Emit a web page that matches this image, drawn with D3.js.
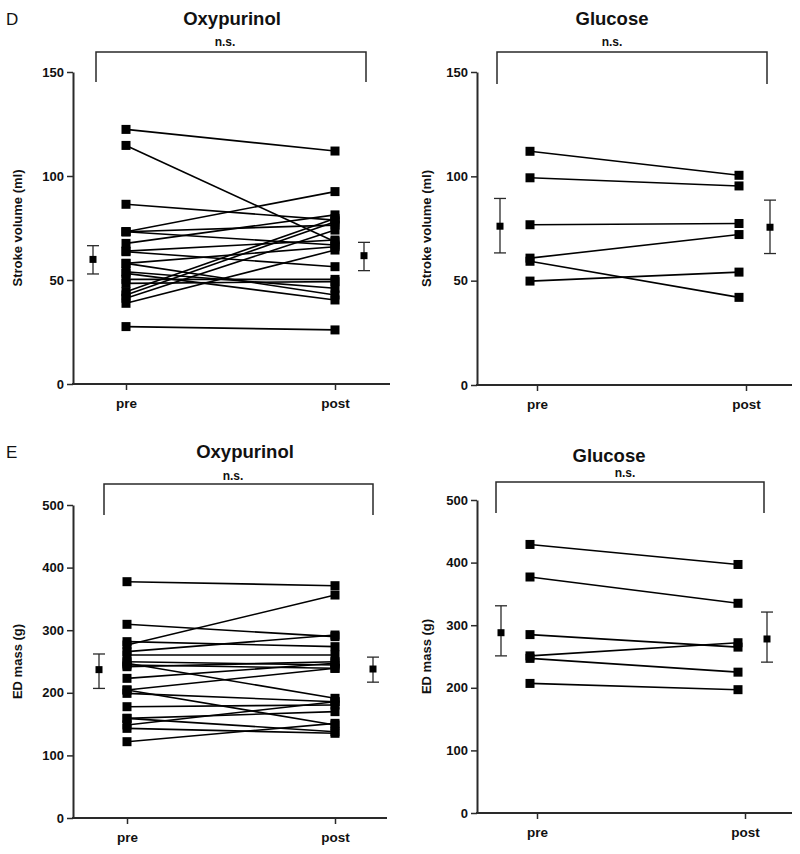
<!DOCTYPE html>
<html><head><meta charset="utf-8">
<script src="https://cdnjs.cloudflare.com/ajax/libs/d3/7.8.5/d3.min.js"></script>
<style>
body{margin:0;background:#fff;}
svg{display:block;font-family:"Liberation Sans",Arial,sans-serif;}
</style></head>
<body>
<svg id="chart" width="800" height="854"></svg>
<script>
// ---------- data ----------
const timepoints = ["pre", "post"];
const svTicks = [0, 50, 100, 150];
const edTicks = [0, 100, 200, 300, 400, 500];

// Stroke volume, Oxypurinol (paired pre/post)
const oxySvPre  = [122.4, 114.7, 86.4, 73.2, 73.2, 73.2, 67.6, 63.9, 63.6, 58.0, 58.0, 54.0, 53.2, 50.3, 48.4, 44.4, 42.8, 41.2, 38.8, 27.6];
const oxySvPost = [112.0, 68.4, 78.8, 92.5, 76.4, 66.8, 81.3, 69.2, 56.4, 66.0, 42.8, 46.0, 40.4, 50.3, 49.2, 79.6, 78.0, 74.0, 64.4, 26.0];
const oxySvMean = [59.9, 61.7];
const oxySvLo   = [52.9, 54.5];
const oxySvHi   = [66.5, 68.1];

// Stroke volume, Glucose
const gluSvPre  = [112.0, 99.3, 76.8, 60.8, 59.3, 49.8];
const gluSvPost = [100.5, 95.4, 77.4, 72.1, 42.0, 54.1];
const gluSvMean = [76.1, 75.6];
const gluSvLo   = [63.3, 63.0];
const gluSvHi   = [89.4, 88.6];

// ED mass, Oxypurinol
const oxyEdPre  = [377.5, 309.4, 276.4, 281.7, 265.7, 260.4, 249.7, 247.1, 244.4, 241.7, 223.1, 204.5, 204.5, 199.1, 177.8, 159.2, 159.2, 148.6, 143.2, 121.9];
const oxyEdPost = [371.1, 289.7, 356.2, 273.7, 292.3, 260.4, 244.4, 191.2, 239.1, 249.7, 247.1, 239.1, 148.6, 185.8, 180.5, 169.9, 137.9, 185.8, 135.3, 151.2];
const oxyEdMean = [237, 238];
const oxyEdLo   = [207, 217];
const oxyEdHi   = [262, 257];

// ED mass, Glucose
const gluEdPre  = [429, 377, 285, 251, 247, 207];
const gluEdPost = [397, 335, 265, 272, 225, 197];
const gluEdMean = [288, 278];
const gluEdLo   = [251, 241];
const gluEdHi   = [331, 321];

// ---------- layout ----------
const panels = [
  {title:"Oxypurinol", letter:"D", yLabel:"Stroke volume (ml)", ticks:svTicks, max:150,
   pre:oxySvPre, post:oxySvPost, mean:oxySvMean, lo:oxySvLo, hi:oxySvHi,
   axX:73, top:72, bottom:384, xEnd:390, tickPre:126, tickPost:335, shift:0,
   meanX:[93,364], br:[96,366,52,82], nsX:225, nsY:46, titleX:232, titleY:25, letterY:25, yLabX:22},
  {title:"Glucose", yLabel:"Stroke volume (ml)", ticks:svTicks, max:150,
   pre:gluSvPre, post:gluSvPost, mean:gluSvMean, lo:gluSvLo, hi:gluSvHi,
   axX:477, top:72, bottom:385, xEnd:792, tickPre:537, tickPost:746, shift:-7,
   meanX:[500,770], br:[497,767,52,84], nsX:612, nsY:46, titleX:612, titleY:25, yLabX:431},
  {title:"Oxypurinol", letter:"E", yLabel:"ED mass (g)", ticks:edTicks, max:500,
   pre:oxyEdPre, post:oxyEdPost, mean:oxyEdMean, lo:oxyEdLo, hi:oxyEdHi,
   axX:73, top:505, bottom:818, xEnd:387, tickPre:127, tickPost:335, shift:0,
   meanX:[99,373], br:[104,373,484,515], nsX:233, nsY:480, titleX:245, titleY:458, letterY:458, yLabX:22},
  {title:"Glucose", yLabel:"ED mass (g)", ticks:edTicks, max:500,
   pre:gluEdPre, post:gluEdPost, mean:gluEdMean, lo:gluEdLo, hi:gluEdHi,
   axX:477, top:500, bottom:813, xEnd:792, tickPre:537, tickPost:745, shift:-7,
   meanX:[501,767], br:[496,764,482,513], nsX:625, nsY:477, titleX:609, titleY:462, yLabX:431}
];

const svg = d3.select("#chart");
const axisColor = "#2a2a2a";

panels.forEach(p => {
  const g = svg.append("g");
  const y = d3.scaleLinear().domain([0, p.max]).range([p.bottom, p.top]);
  const x = d3.scalePoint().domain(timepoints).range([p.tickPre, p.tickPost]).padding(0);

  // y axis
  const yAx = g.append("g").attr("transform", `translate(${p.axX},0)`)
    .call(d3.axisLeft(y).tickValues(p.ticks).tickSize(6).tickSizeOuter(0).tickPadding(3));
  yAx.select(".domain").attr("stroke", axisColor).attr("stroke-width", 2);
  yAx.selectAll(".tick line").attr("stroke", axisColor).attr("stroke-width", 1.5);
  yAx.selectAll(".tick text").attr("font-size", 13).attr("font-weight", "bold")
     .attr("fill", "#111").attr("font-family", "Liberation Sans, Arial, sans-serif");

  // x axis
  g.append("line").attr("x1", p.axX - 1).attr("x2", p.xEnd)
    .attr("y1", p.bottom).attr("y2", p.bottom)
    .attr("stroke", axisColor).attr("stroke-width", 2);
  const xAx = g.append("g").attr("transform", `translate(0,${p.bottom})`)
    .call(d3.axisBottom(x).tickSize(6).tickSizeOuter(0).tickPadding(8));
  xAx.select(".domain").remove();
  xAx.selectAll(".tick line").attr("stroke", axisColor).attr("stroke-width", 1.5);
  xAx.selectAll(".tick text").attr("font-size", 13.5).attr("font-weight", "bold")
     .attr("fill", "#111").attr("font-family", "Liberation Sans, Arial, sans-serif");

  // y label
  g.append("text")
    .attr("transform", `translate(${p.yLabX},${(p.top + p.bottom) / 2}) rotate(-90)`)
    .attr("text-anchor", "middle").attr("font-size", 13).attr("font-weight", "bold")
    .attr("fill", "#111").text(p.yLabel);

  // title, letter
  g.append("text").attr("x", p.titleX).attr("y", p.titleY).attr("text-anchor", "middle")
    .attr("font-size", 18.5).attr("font-weight", "bold").attr("fill", "#111").text(p.title);
  if (p.letter) {
    g.append("text").attr("x", 6).attr("y", p.letterY).attr("font-size", 17)
      .attr("fill", "#111").text(p.letter);
  }

  // bracket
  const [bx1, bx2, bt, bb] = p.br;
  g.append("path").attr("d", `M${bx1},${bb}V${bt}H${bx2}V${bb}`)
    .attr("fill", "none").attr("stroke", axisColor).attr("stroke-width", 1.5);
  g.append("text").attr("x", p.nsX).attr("y", p.nsY).attr("text-anchor", "middle")
    .attr("font-size", 12).attr("font-weight", "bold").attr("fill", "#111").text("n.s.");

  // paired lines
  const xp = x("pre") + p.shift, xq = x("post") + p.shift;
  g.append("g").selectAll("line").data(d3.range(p.pre.length)).join("line")
    .attr("x1", xp).attr("x2", xq)
    .attr("y1", i => y(p.pre[i])).attr("y2", i => y(p.post[i]))
    .attr("stroke", "#000").attr("stroke-width", 1.6);

  // squares
  const s = 9;
  const pts = [];
  p.pre.forEach(v => pts.push([xp, v]));
  p.post.forEach(v => pts.push([xq, v]));
  g.append("g").selectAll("rect").data(pts).join("rect")
    .attr("x", d => d[0] - s / 2).attr("y", d => y(d[1]) - s / 2)
    .attr("width", s).attr("height", s).attr("fill", "#000");

  // mean ± error
  const mg = g.append("g");
  p.mean.forEach((m, i) => {
    const mx = p.meanX[i];
    mg.append("line").attr("x1", mx).attr("x2", mx).attr("y1", y(p.lo[i])).attr("y2", y(p.hi[i]))
      .attr("stroke", axisColor).attr("stroke-width", 1.3);
    [p.lo[i], p.hi[i]].forEach(v => {
      mg.append("line").attr("x1", mx - 6).attr("x2", mx + 6).attr("y1", y(v)).attr("y2", y(v))
        .attr("stroke", axisColor).attr("stroke-width", 1.3);
    });
    mg.append("rect").attr("x", mx - 3.5).attr("y", y(m) - 3.5).attr("width", 7).attr("height", 7)
      .attr("fill", "#000");
  });
});
</script>
</body></html>
